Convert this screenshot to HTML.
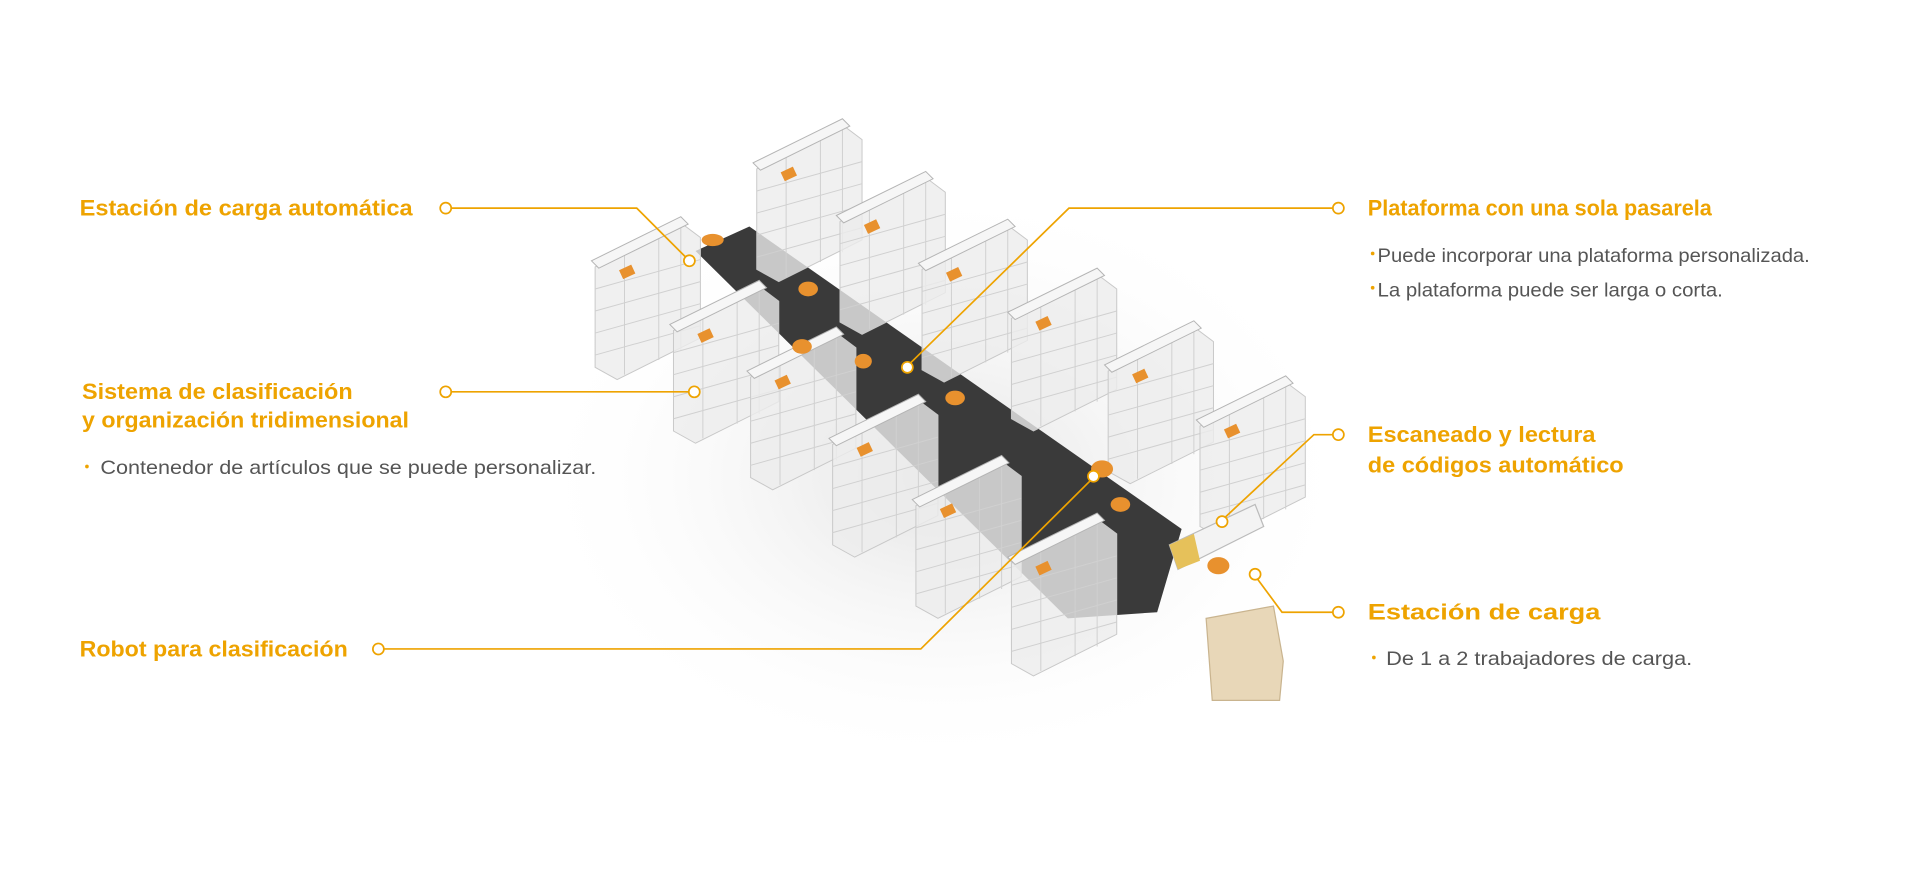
<!DOCTYPE html>
<html><head><meta charset="utf-8"><style>
html,body{margin:0;padding:0;background:#fff;}
svg{display:block}
.t{font-family:"Liberation Sans Narrow","Liberation Sans",sans-serif;font-weight:bold;fill:#eea300;font-size:18px}
.b{font-family:"Liberation Sans Narrow","Liberation Sans",sans-serif;fill:#555;font-size:16px}
.d{fill:#eea300}
.l{stroke:#eea300;stroke-width:1.4;fill:none}
.c{stroke:#eea300;stroke-width:1.4;fill:#fff}
.s{fill:#ececec;fill-opacity:.8;stroke:#c8c8c8;stroke-width:.8}
.sl{stroke:#d0d0d0;stroke-width:.8;fill:none}
.r{fill:#e8912e}
</style></head><body>
<svg width="1920" height="880" viewBox="0 0 1568 718.7" preserveAspectRatio="none">
<defs>
<radialGradient id="sh" cx="50%" cy="50%" r="50%"><stop offset="0" stop-color="#e2e2e2"/><stop offset="1" stop-color="#fff" stop-opacity="0"/></radialGradient>
<g id="u">
<polygon class="s" points="-42,-32 28,-68 44,-56 44,26 -24,60 -42,50"/>
<path class="sl" d="M-42,-14 L44,-38 M-42,4 L44,-20 M-42,22 L44,-2 M-42,40 L44,16 M-18,-44 L-18,56 M10,-58 L10,44 M28,-68 L28,36"/>
<polygon fill="#f6f6f6" stroke="#b4b4b4" stroke-width=".8" points="-45,-37 28,-73 34,-67 -39,-31"/>
<rect class="r" x="-8" y="-36" width="11" height="8" transform="rotate(-25)"/>
</g>
</defs>
<ellipse cx="770" cy="390" rx="340" ry="240" fill="url(#sh)"/>
<polygon fill="#3a3a3a" points="568,205 612,185 965,432 945,500 872,505"/>
<use href="#u" x="660" y="170"/>
<use href="#u" x="728" y="213"/>
<use href="#u" x="795" y="252"/>
<use href="#u" x="868" y="292"/>
<use href="#u" x="947" y="335"/>
<use href="#u" x="1022" y="380"/>
<use href="#u" x="528" y="250"/>
<use href="#u" x="592" y="302"/>
<use href="#u" x="655" y="340"/>
<use href="#u" x="722" y="395"/>
<use href="#u" x="790" y="445"/>
<use href="#u" x="868" y="492"/>
<polygon fill="#f3f3f3" stroke="#bbb" points="955,445 1025,412 1032,430 962,465"/>
<polygon fill="#e6c15a" points="955,445 975,436 980,458 962,465"/>
<polygon fill="#e8d7b8" stroke="#c9b48f" points="985,505 1040,495 1048,540 1045,572 990,572"/>
<ellipse class="r" cx="660" cy="236" rx="8" ry="6"/>
<ellipse class="r" cx="655" cy="283" rx="8" ry="6"/>
<ellipse class="r" cx="705" cy="295" rx="7" ry="6"/>
<ellipse class="r" cx="780" cy="325" rx="8" ry="6"/>
<ellipse class="r" cx="900" cy="383" rx="9" ry="7"/>
<ellipse class="r" cx="915" cy="412" rx="8" ry="6"/>
<ellipse class="r" cx="995" cy="462" rx="9" ry="7"/>
<ellipse class="r" cx="582" cy="196" rx="9" ry="5"/>
<path class="l" d="M369,170 L520,170 L560,210"/><circle class="c" cx="364" cy="170" r="4.5"/><circle class="c" cx="563" cy="213" r="4.5"/>
<path class="l" d="M369,320 L563,320"/><circle class="c" cx="364" cy="320" r="4.5"/><circle class="c" cx="567" cy="320" r="4.5"/>
<path class="l" d="M314,530 L752,530 L890,393"/><circle class="c" cx="309" cy="530" r="4.5"/><circle class="c" cx="893" cy="389" r="4.5"/>
<path class="l" d="M1088,170 L873,170 L744,296"/><circle class="c" cx="1093" cy="170" r="4.5"/><circle class="c" cx="741" cy="300" r="4.5"/>
<path class="l" d="M1088,355 L1073,355 L1001,422"/><circle class="c" cx="1093" cy="355" r="4.5"/><circle class="c" cx="998" cy="426" r="4.5"/>
<path class="l" d="M1088,500 L1047,500 L1027,473"/><circle class="c" cx="1093" cy="500" r="4.5"/><circle class="c" cx="1025" cy="469" r="4.5"/>
<text class="t" x="65" y="176" textLength="272" lengthAdjust="spacingAndGlyphs">Estación de carga automática</text>
<text class="t" x="67" y="326" textLength="221" lengthAdjust="spacingAndGlyphs">Sistema de clasificación</text>
<text class="t" x="67" y="349" textLength="267" lengthAdjust="spacingAndGlyphs">y organización tridimensional</text>
<circle class="d" cx="71" cy="381" r="1.5"/>
<text class="b" x="82" y="387" textLength="405" lengthAdjust="spacingAndGlyphs">Contenedor de artículos que se puede personalizar.</text>
<text class="t" x="65" y="536" textLength="219" lengthAdjust="spacingAndGlyphs">Robot para clasificación</text>
<text class="t" x="1117" y="176" textLength="281" lengthAdjust="spacingAndGlyphs">Plataforma con una sola pasarela</text>
<circle class="d" cx="1121" cy="207" r="1.5"/>
<text class="b" x="1125" y="214" textLength="353" lengthAdjust="spacingAndGlyphs">Puede incorporar una plataforma personalizada.</text>
<circle class="d" cx="1121" cy="235" r="1.5"/>
<text class="b" x="1125" y="242" textLength="282" lengthAdjust="spacingAndGlyphs">La plataforma puede ser larga o corta.</text>
<text class="t" x="1117" y="361" textLength="186" lengthAdjust="spacingAndGlyphs">Escaneado y lectura</text>
<text class="t" x="1117" y="386" textLength="209" lengthAdjust="spacingAndGlyphs">de códigos automático</text>
<text class="t" x="1117" y="506" textLength="190" lengthAdjust="spacingAndGlyphs">Estación de carga</text>
<circle class="d" cx="1122" cy="537" r="1.5"/>
<text class="b" x="1132" y="543" textLength="250" lengthAdjust="spacingAndGlyphs">De 1 a 2 trabajadores de carga.</text>
</svg>
</body></html>
